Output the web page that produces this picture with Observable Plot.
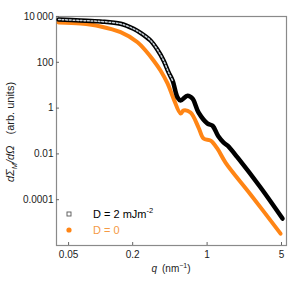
<!DOCTYPE html>
<html>
<head>
<meta charset="utf-8">
<script src="https://cdn.jsdelivr.net/npm/d3@7"></script>
<script src="https://cdn.jsdelivr.net/npm/@observablehq/plot@0.6"></script>
<style>
  body { margin: 0; background: #fff; }
  svg { font-family: "Liberation Sans", Arial, sans-serif; }
</style>
</head>
<body>
<div id="chart"></div>
<script>
// D = 2 mJm^-2 (black, hollow squares)
const qD2 = [0.0403, 0.0648, 0.0998, 0.154, 0.204, 0.237, 0.294, 0.342, 0.390, 0.434, 0.474, 0.528, 0.564, 0.655, 0.729, 0.831, 1.01, 1.125, 1.27, 1.43, 1.56, 1.93, 3.18, 5.11];
const vD2 = [7400, 6700, 6050, 4800, 2900, 1940, 895, 352, 120, 37, 16, 2.9, 2.15, 3.5, 2.6, 0.64, 0.21, 0.17, 0.06, 0.031, 0.023, 0.007, 3.4e-4, 1.5e-5];
// D = 0 (orange, filled circles)
const qD0 = [0.0403, 0.0648, 0.0998, 0.154, 0.222, 0.264, 0.314, 0.365, 0.425, 0.484, 0.564, 0.601, 0.699, 0.831, 0.926, 1.08, 1.25, 1.49, 2.56, 4.90];
const vD0 = [5470, 4900, 3660, 2060, 755, 327, 120, 44, 11.9, 2.6, 0.58, 0.79, 0.64, 0.142, 0.047, 0.038, 0.017, 0.0042, 1.7e-4, 3.3e-6];

const xTicks = [0.05, 0.2, 1, 5];
const xTickLabels = ["0.05", "0.2", "1", "5"];
const yTicks = [1e4, 100, 1, 0.01, 1e-4];
const yTickLabels = ["10\u2009000", "100", "1", "0.01", "0.0001"];

const d2 = qD2.map((q, i) => ({q, v: vD2[i]}));
const d0 = qD0.map((q, i) => ({q, v: vD0[i]}));

const black = "#000";
const orange = "#ff8515";

const chart = Plot.plot({
  width: 291,
  height: 284,
  marginLeft: 56,
  marginRight: 5,
  marginTop: 16,
  marginBottom: 39,
  style: {fontSize: "10px", fontFamily: "Liberation Sans, Arial, sans-serif", color: "#222"},
  x: {type: "log", domain: [0.0385, 5.57]},
  y: {type: "log", domain: [1e-6, 1e4]},
  marks: [
    Plot.frame({stroke: "#8a8a8a", strokeWidth: 1.2}),
    Plot.axisX({ticks: xTicks, tickSize: 0, tickPadding: 5, tickFormat: (d) => xTickLabels[xTicks.indexOf(d)], label: null}),
    Plot.axisX({ticks: xTicks, tickSize: -3, tickFormat: () => "", label: null, stroke: "#666"}),
    Plot.axisY({ticks: yTicks, tickSize: 0, tickPadding: 3, tickFormat: (d) => yTickLabels[yTicks.indexOf(d)], label: null}),
    Plot.axisY({ticks: yTicks, tickSize: -3, tickFormat: () => "", label: null, stroke: "#666"}),
    Plot.line(d0, {x: "q", y: "v", stroke: orange, strokeWidth: 4, curve: "catmull-rom"}),
    Plot.line(d2, {x: "q", y: "v", stroke: black, strokeWidth: 4.5, curve: "catmull-rom"}),
    Plot.line(d2.filter(d => d.q <= 0.5), {x: "q", y: "v", stroke: "#c9d3dc", strokeWidth: 1.5, strokeDasharray: "1.8,1.8", curve: "catmull-rom"})
  ]
});
document.getElementById("chart").appendChild(chart);

const svg = d3.select(chart);
// y label
const yl = svg.append("text")
  .attr("transform", "translate(14,132) rotate(-90)")
  .attr("text-anchor", "middle")
  .attr("font-size", 11)
  .attr("fill", "#222");
yl.append("tspan").attr("font-style", "italic").text("d\u03A3");
yl.append("tspan").attr("font-size", 7.5).attr("dy", 2.5).attr("font-style", "italic").text("M");
yl.append("tspan").attr("dy", -2.5).attr("font-style", "italic").text("/d\u03A9");
yl.append("tspan").text("\u2003(arb. units)");

// x label
const xl = svg.append("text")
  .attr("x", 171).attr("y", 272)
  .attr("text-anchor", "middle")
  .attr("font-size", 10)
  .attr("fill", "#222");
xl.append("tspan").attr("font-style", "italic").text("q");
xl.append("tspan").text("\u2002(nm");
xl.append("tspan").attr("font-size", 7).attr("dy", -4).text("\u22121");
xl.append("tspan").attr("dy", 4).text(")");

// legend
svg.append("rect").attr("x", 67).attr("y", 212).attr("width", 4).attr("height", 4)
  .attr("fill", "none").attr("stroke", "#555").attr("stroke-width", 0.9);
svg.append("circle").attr("cx", 69).attr("cy", 230).attr("r", 2.6).attr("fill", orange);
const t1 = svg.append("text").attr("x", 93).attr("y", 217.5).attr("text-anchor", "start").attr("font-size", 11).attr("fill", "#000");
t1.append("tspan").text("D = 2 mJm");
t1.append("tspan").attr("font-size", 7.5).attr("dy", -5).text("-2");
svg.append("text").attr("x", 93).attr("y", 234).attr("text-anchor", "start").attr("font-size", 11).attr("fill", "#f59a45").text("D = 0");
</script>
</body>
</html>
